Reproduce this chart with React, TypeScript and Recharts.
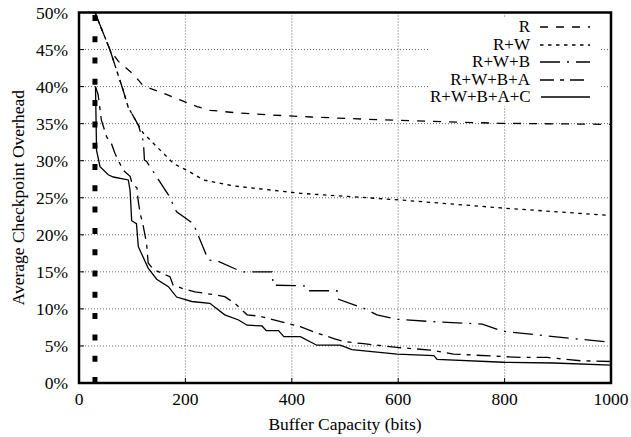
import {
  CartesianGrid,
  Legend,
  Line,
  LineChart,
  ReferenceArea,
  ReferenceLine,
  XAxis,
  YAxis,
} from "recharts";

const xTicks = [0, 200, 400, 600, 800, 1000];
const yTicks = [0, 5, 10, 15, 20, 25, 30, 35, 40, 45, 50];
const minBufferBits = 30;

// [buffer capacity (bits), average checkpoint overhead (%)]
const seriesR: [number, number][] = [
  [30, 50], [58, 45], [74, 43.4], [103, 41.6], [121, 40.1], [159, 39.1], [190, 38.2],
  [222, 37.3], [247, 36.8], [291, 36.5], [353, 36.2], [435, 35.9], [541, 35.6],
  [666, 35.3], [791, 35.05], [1000, 34.9],
];

const seriesRW: [number, number][] = [
  [30, 50], [58, 45], [83, 39.5], [93, 37.1], [99, 36.4], [111.5, 34.8], [121, 33.7],
  [146, 31.9], [178, 29.6], [203, 28.7], [234, 27.4], [290, 26.6], [391, 25.8],
  [416, 25.6], [604, 24.7], [798, 23.6], [1000, 22.6],
];

const seriesRWB: [number, number][] = [
  [30, 50], [58, 45], [83, 39.5], [93, 37.1], [99, 36.4], [111.5, 34.8], [121, 32.6],
  [123, 30.1], [127, 29.9], [168, 25.4], [183.5, 23.1], [215, 21.5], [243, 16.6],
  [262, 16.4], [300, 15.2], [309, 15], [363, 15], [365, 13.2], [425, 13.1], [430, 12.45],
  [485, 12.45], [488, 11.3], [535, 10.1], [560, 9.2], [598, 8.6], [660, 8.3], [758, 7.95],
  [795, 7.0], [892, 6.25], [1000, 5.5],
];

const seriesRWBA: [number, number][] = [
  [31, 40], [36, 38.9], [42, 35.5], [52, 33.2], [61, 32.3], [67.5, 31], [83, 28.7],
  [96, 27.9], [99.6, 27], [109, 26.3], [111, 24.7], [115, 22.9], [121, 21.1], [127, 18.85],
  [130, 16.2], [140, 15.3], [171, 14.35], [177, 13.2], [199, 12.65], [218, 12.3],
  [256, 11.9], [274, 11.65], [293, 10.75], [316, 9.2], [341, 9.0], [391, 8.05], [416, 7.6],
  [441, 6.9], [479, 6.0], [497, 5.6], [535, 5.3], [598, 4.8], [660, 4.45], [704, 3.9],
  [830, 3.45], [880, 3.45], [943, 3.0], [1000, 2.9],
];

const seriesRWBAC: [number, number][] = [
  [31, 40], [33, 31.4], [39.5, 29.2], [55, 28.1], [64.5, 27.8], [92.7, 27.4], [96, 26],
  [99, 21.9], [108, 21.5], [111.5, 18.4], [130, 15.5], [146, 14], [168, 13], [183.5, 11.6],
  [212, 11], [246, 10.75], [274, 9.2], [300, 8.5], [316, 7.8], [344, 7.7], [352, 7.06],
  [375, 7.06], [385, 6.25], [416, 6.25], [447, 5.1], [491, 5.1], [513, 4.5], [598, 3.9],
  [667, 3.7], [673, 3.2], [798, 2.8], [892, 2.7], [1000, 2.4],
];

const SERIES = [
  { name: "R", points: seriesR, dash: "8 8" },
  { name: "R+W", points: seriesRW, dash: "3.5 4.5" },
  { name: "R+W+B", points: seriesRWB, dash: "20 7 2 7" },
  { name: "R+W+B+A", points: seriesRWBA, dash: "14 6 4 6" },
  { name: "R+W+B+A+C", points: seriesRWBAC, dash: undefined },
];

const FONT = "'Liberation Serif', 'Times New Roman', serif";
const FONT_SIZE = 17.5;
const TICK = { fill: "#000", fontFamily: FONT, fontSize: FONT_SIZE };

function LegendBox() {
  return (
    <div style={{ background: "#fff", fontFamily: FONT, fontSize: 17, color: "#000" }}>
      {SERIES.map((s) => (
        <div
          key={s.name}
          style={{
            display: "flex",
            justifyContent: "flex-end",
            alignItems: "center",
            height: 17.5,
            lineHeight: "17.5px",
          }}
        >
          <span>{s.name}</span>
          <svg width={50} height={17.5} style={{ marginLeft: 10, marginRight: 10 }}>
            <line x1={0} x2={50} y1={9} y2={9} stroke="#000" strokeWidth={1.3} strokeDasharray={s.dash} />
          </svg>
        </div>
      ))}
    </div>
  );
}

function YLabel(props: any) {
  const vb = props.viewBox || { x: 0, y: 12.5, height: 370.5 };
  const cx = 24;
  const cy = vb.y + vb.height / 2;
  return (
    <text
      x={cx}
      y={cy}
      transform={`rotate(-90 ${cx} ${cy})`}
      textAnchor="middle"
      fill="#000"
      fontFamily={FONT}
      fontSize={FONT_SIZE}
    >
      Average Checkpoint Overhead
    </text>
  );
}

export default function App() {
  return (
    <div style={{ position: "absolute", left: 0, top: 0, background: "#fff" }}>
      <LineChart width={631} height={437} margin={{ top: 12.5, right: 20, bottom: 0, left: 0 }}>
        <CartesianGrid stroke="#666" strokeDasharray="1 2" />
        <XAxis
          dataKey="bits"
          type="number"
          domain={[0, 1000]}
          ticks={xTicks}
          tick={TICK}
          axisLine={false}
          tickLine={{ stroke: "#000" }}
          tickSize={-5}
          tickMargin={15}
          height={54}
          label={{
            value: "Buffer Capacity (bits)",
            position: "insideBottom",
            offset: 7,
            fill: "#000",
            fontFamily: FONT,
            fontSize: FONT_SIZE,
          }}
        />
        <XAxis
          xAxisId="top"
          orientation="top"
          type="number"
          domain={[0, 1000]}
          ticks={xTicks}
          mirror
          height={0}
          tick={false}
          axisLine={false}
          tickLine={{ stroke: "#000" }}
          tickSize={5}
        />
        <YAxis
          type="number"
          domain={[0, 50]}
          ticks={yTicks}
          tickFormatter={(v) => `${v}%`}
          tick={TICK}
          axisLine={false}
          tickLine={{ stroke: "#000" }}
          tickSize={-5}
          tickMargin={16}
          width={79}
          label={{ content: YLabel }}
        />
        <YAxis
          yAxisId="right"
          orientation="right"
          type="number"
          domain={[0, 50]}
          ticks={yTicks}
          mirror
          width={0}
          tick={false}
          axisLine={false}
          tickLine={{ stroke: "#000" }}
          tickSize={5}
        />
        <ReferenceLine x={minBufferBits} stroke="#000" strokeWidth={5} strokeDasharray="6 15.3" />
        {SERIES.map((s) => (
          <Line
            key={s.name}
            name={s.name}
            data={s.points.map(([bits, overhead]) => ({ bits, overhead }))}
            dataKey="overhead"
            type="linear"
            stroke="#000"
            strokeWidth={1.3}
            strokeDasharray={s.dash}
            dot={false}
            activeDot={false}
            isAnimationActive={false}
          />
        ))}
        <ReferenceArea
          x1={0}
          x2={1000}
          y1={0}
          y2={50}
          fill="none"
          fillOpacity={0}
          stroke="#000"
          strokeWidth={2.5}
        />
        <Legend
          layout="vertical"
          align="center"
          verticalAlign="middle"
          content={() => <LegendBox />}
          wrapperStyle={{ left: 430, top: 18, width: 170, height: 90 }}
        />
      </LineChart>
    </div>
  );
}
